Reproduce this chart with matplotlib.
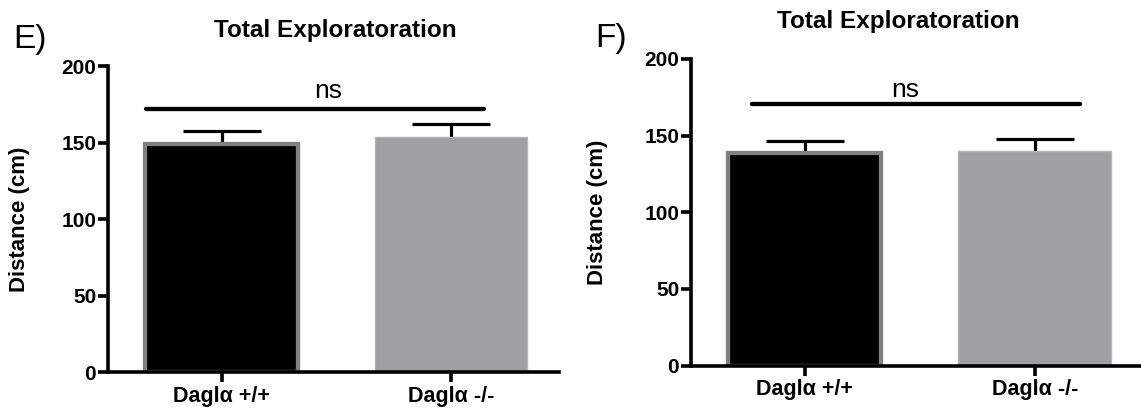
import matplotlib
matplotlib.use("Agg")
import matplotlib.pyplot as plt

plt.rcParams['font.family'] = ['Liberation Sans', 'DejaVu Sans']

groups = ["Daglα +/+", "Daglα -/-"]

# panel E
means_e = [149, 153.5]
sem_e = [8.8, 8.5]
# panel F
means_f = [139, 140]
sem_f = [7.2, 7.5]

panel_letters = ["E)", "F)"]
title = "Total Exploratoration"
ylabel = "Distance (cm)"
yticks = [0, 50, 100, 150, 200]

bar_fill = ["#000000", "#a0a0a4"]
bar_edge = ["#808080", "#b4b4b6"]
bar_lw = [3.1, 1.0]

W, H = 1141, 412
fig = plt.figure(figsize=(W / 100, H / 100), dpi=100)


def px_axes(left, right, y0, y200):
    return fig.add_axes([left / W, (H - y0) / H, (right - left) / W, (y0 - y200) / H])


def draw_panel(ax, means, sems, ns_x, ns_y, ns_text_x, ns_text_y):
    x = [0, 1]
    # error bars sit behind the bars so only the upper half shows
    ax.errorbar(x, means, yerr=sems, fmt='none', ecolor='black',
                elinewidth=2.3, capsize=28, capthick=2.3, zorder=1)
    for i in range(len(x)):
        ax.bar(x[i], means[i], width=0.665, color=bar_fill[i],
               edgecolor=bar_edge[i], linewidth=bar_lw[i], zorder=2)

    ax.plot(ns_x, [ns_y, ns_y], color='black', lw=3.1,
            solid_capstyle='round', zorder=3)
    ax.text(ns_text_x, ns_text_y, "ns", ha='center', va='baseline', fontsize=19)

    ax.set_xlim(-0.495, 1.47)
    ax.set_ylim(0, 200)
    ax.set_yticks(yticks, labels=[str(v) for v in yticks],
                  fontsize=15, fontweight='bold')
    ax.set_xticks(x, labels=groups, fontsize=15.5, fontweight='bold')

    for side in ['top', 'right']:
        ax.spines[side].set_visible(False)
    for side in ['left', 'bottom']:
        ax.spines[side].set_linewidth(2.6)
    ax.tick_params(axis='both', length=7, width=2.6, pad=1.5)
    ax.tick_params(axis='x', pad=3)

    ax.set_ylabel(ylabel, fontsize=16, fontweight='bold')
    ax.set_facecolor('none')


ax1 = px_axes(108, 559, 372.4, 66)
draw_panel(ax1, means_e, sem_e, [-0.331, 1.144], 171.8, 0.463, 179)
ax1.yaxis.set_label_coords(-0.173, 0.5)

ax2 = px_axes(691, 1143, 365.6, 59)
draw_panel(ax2, means_f, sem_f, [-0.228, 1.195], 170.6, 0.435, 175.5)
ax2.yaxis.set_label_coords(-0.184, 0.5)

# titles and panel letters
fig.text(335 / W, (H - 37.5) / H, title, ha='center', va='baseline',
         fontsize=17.5, fontweight='bold')
fig.text(898 / W, (H - 28) / H, title, ha='center', va='baseline',
         fontsize=17.5, fontweight='bold')
fig.text(13 / W, (H - 48.3) / H, panel_letters[0], ha='left', va='baseline', fontsize=24)
fig.text(595 / W, (H - 46.7) / H, panel_letters[1], ha='left', va='baseline', fontsize=24)

fig.savefig("out.png", dpi=100)
